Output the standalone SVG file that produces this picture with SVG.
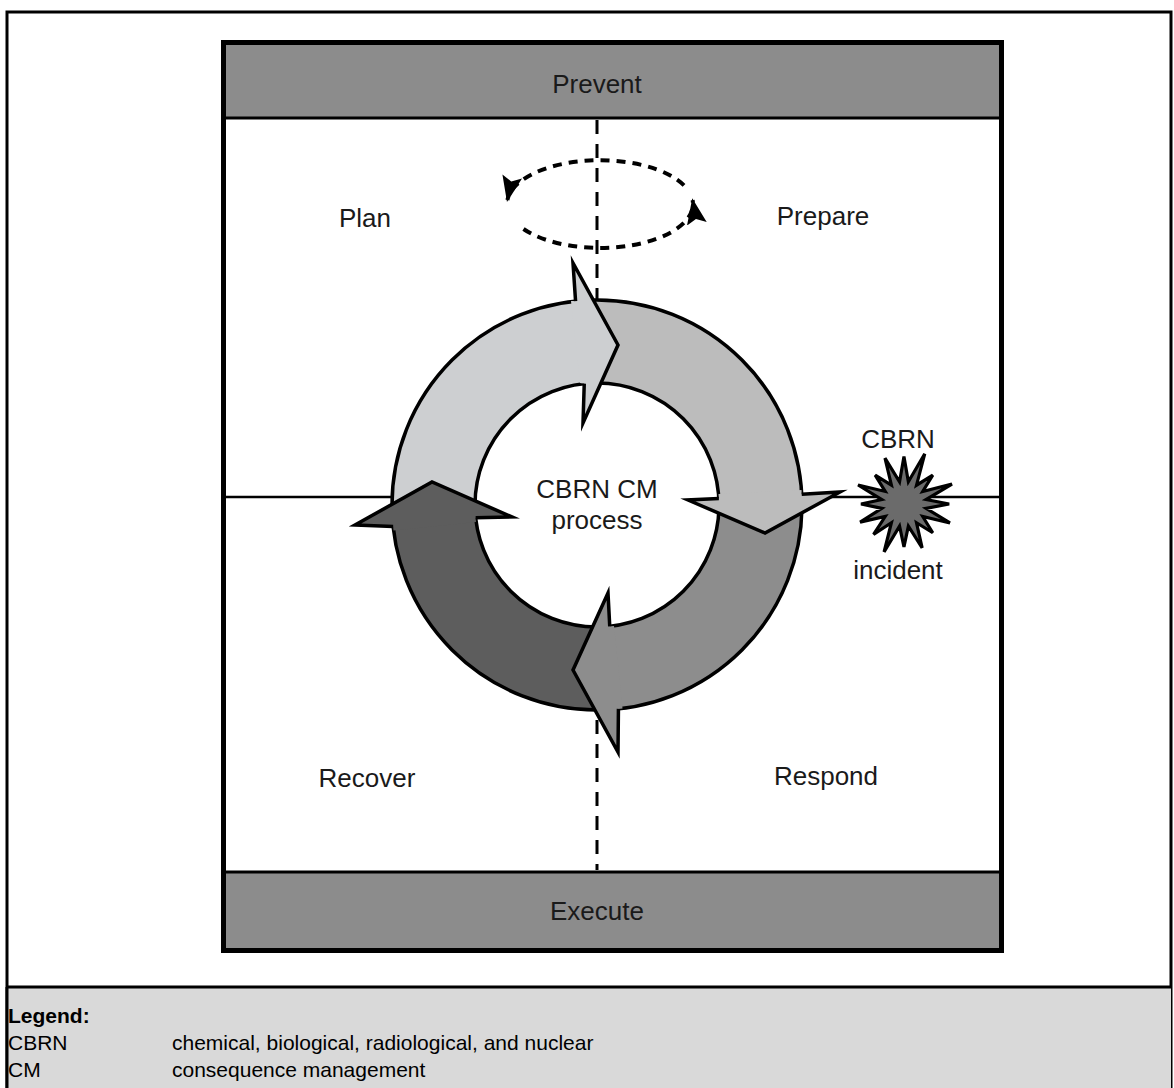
<svg xmlns="http://www.w3.org/2000/svg" width="1174" height="1088" viewBox="0 0 1174 1088">
<defs>
<style>
.lbl{font-family:"Liberation Sans",Arial,sans-serif;font-size:26px;fill:#1a1a1a;text-anchor:middle}
.leg{font-family:"Liberation Sans",Arial,sans-serif;font-size:21px;fill:#000}
.band{fill:#8c8c8c}
.ring{fill:none;stroke:#000;stroke-width:3.5}
.head{stroke:#000;stroke-width:3.5;stroke-linejoin:miter;stroke-miterlimit:10}
.dash{fill:none;stroke:#000;stroke-width:4;stroke-dasharray:9 7}
</style>
<marker id="ah" markerUnits="userSpaceOnUse" markerWidth="30" markerHeight="22" refX="24" refY="10" orient="auto">
<path d="M0,0 L26,10 L0,20 L5,10 Z" fill="#000" stroke="none"/>
</marker>
</defs>
<rect width="1174" height="1088" fill="#fff"/>
<rect x="7" y="12" width="1164" height="1090" fill="none" stroke="#000" stroke-width="3"/>
<g id="legend">
<rect x="7" y="987" width="1164" height="110" fill="#d9d9d9"/>
<line x1="7" y1="987" x2="1171" y2="987" stroke="#000" stroke-width="3"/>
<line x1="7" y1="987" x2="7" y2="1088" stroke="#000" stroke-width="3"/>
<text class="leg" x="8" y="1023" font-weight="bold">Legend:</text>
<text class="leg" x="8" y="1050">CBRN</text>
<text class="leg" x="172" y="1050">chemical, biological, radiological, and nuclear</text>
<text class="leg" x="8" y="1077">CM</text>
<text class="leg" x="172" y="1077">consequence management</text>
</g>
<g id="frame">
<rect x="223.5" y="42.5" width="778" height="908" fill="#fff" stroke="#000" stroke-width="5"/>
</g>
<g id="prevent">
<rect class="band" x="226" y="45" width="773" height="72"/>
<line x1="226" y1="118" x2="999" y2="118" stroke="#000" stroke-width="3"/>
<text class="lbl" x="597" y="93">Prevent</text>
</g>
<g id="execute">
<rect class="band" x="226" y="873" width="773" height="75"/>
<line x1="226" y1="872" x2="999" y2="872" stroke="#000" stroke-width="3"/>
<text class="lbl" x="597" y="920">Execute</text>
</g>
<g id="connectors">
<line x1="226" y1="497" x2="999" y2="497" stroke="#000" stroke-width="2.5"/>
<line x1="597" y1="120" x2="597" y2="870" stroke="#000" stroke-width="3" stroke-dasharray="14 10"/>
<path class="dash" d="M684,185.4 A93,44 0 0 0 507.4,200" marker-end="url(#ah)"/>
<path class="dash" d="M523.5,229 A93,44 0 0 0 692.6,200.2" marker-end="url(#ah)"/>
</g>
<g id="plan"><text class="lbl" x="365" y="227">Plan</text></g>
<g id="prepare"><text class="lbl" x="823" y="225">Prepare</text></g>
<g id="recover"><text class="lbl" x="367" y="787">Recover</text></g>
<g id="respond"><text class="lbl" x="826" y="785">Respond</text></g>
<g id="cycle">
<circle cx="597" cy="505" r="122" fill="#fff"/>
<path fill="#cdcfd1" d="M393.12,526.43 A205,205 0 0 1 575.57,301.12 L584.25,383.67 A122,122 0 0 0 475.67,517.75 Z"/>
<path fill="#bcbcbc" d="M575.57,301.12 A205,205 0 0 1 801.72,494.27 L718.83,498.61 A122,122 0 0 0 584.25,383.67 Z"/>
<path fill="#8d8d8d" d="M801.72,494.27 A205,205 0 0 1 618.43,708.88 L609.75,626.33 A122,122 0 0 0 718.83,498.61 Z"/>
<path fill="#5d5d5d" d="M618.43,708.88 A205,205 0 0 1 393.12,526.43 L475.67,517.75 A122,122 0 0 0 609.75,626.33 Z"/>
<circle class="ring" cx="597" cy="505" r="205"/>
<circle class="ring" cx="597" cy="505" r="122"/>
<polygon fill="#cdcfd1" points="575.57,301.12 573,263 618,345 583,423 584.25,383.67 580,383 571,301"/>
<polyline class="head" fill="none" points="575.57,301.12 573,263 618,345 583,423 584.25,383.67"/>
<polygon fill="#bcbcbc" points="801.72,494.27 840,492 765,533 688,500 718.83,498.61 718.5,494 801.5,490"/>
<polyline class="head" fill="none" points="801.72,494.27 840,492 765,533 688,500 718.83,498.61"/>
<polygon fill="#8d8d8d" points="609.75,626.33 608,593 573,670 618,752 618.43,708.88 622.5,708.5 614,626"/>
<polyline class="head" fill="none" points="609.75,626.33 608,593 573,670 618,752 618.43,708.88"/>
<polygon fill="#5d5d5d" points="393.12,526.43 355,525 432,482 512,517 475.67,517.75 476,522 393.5,530.5"/>
<polyline class="head" fill="none" points="393.12,526.43 355,525 432,482 512,517 475.67,517.75"/>
<text class="lbl" x="597" y="498">CBRN CM</text>
<text class="lbl" x="597" y="529">process</text>
</g>
<g id="incident">
<polygon fill="#6b6b6b" stroke="#000" stroke-width="2.8" stroke-linejoin="miter" transform="matrix(1.13 0 0 1.13 -115.3 -74.6)" points="902,470 905.9,492.4 920.4,467.6 913.1,495.4 927.5,486.5 918.6,500.9 944.5,494.4 921.6,508.1 942,512 921.6,515.9 942.7,528.8 918.6,523.1 927.5,537.5 913.1,528.6 918.1,550.8 905.9,531.6 902,550 898.1,531.6 884.4,554.5 890.9,528.6 875.1,538.9 885.4,523.1 863.2,528.1 882.4,515.9 864,512 882.4,508.1 861.4,495.2 885.4,500.9 876.5,486.5 890.9,495.4 885.2,471.4 898.1,492.4"/>
<text class="lbl" x="898" y="448">CBRN</text>
<text class="lbl" x="898" y="579">incident</text>
</g>
</svg>
